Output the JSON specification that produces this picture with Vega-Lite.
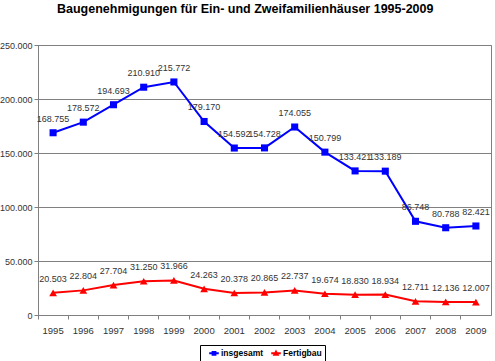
{
  "$schema": "https://vega.github.io/schema/vega-lite/v6.json",
  "width": 453,
  "height": 270,
  "autosize": {"type": "none"},
  "padding": {"left": 38, "top": 45, "right": 4, "bottom": 46},
  "background": "white",
  "config": {
    "locale": {"number": {"decimal": ",", "thousands": ".", "grouping": [3], "currency": ["", " €"]}},
    "font": "Liberation Sans",
    "view": {"stroke": "#808080", "strokeWidth": 1},
    "legend": {
      "orient": "none",
      "legendX": 162,
      "legendY": 300,
      "direction": "horizontal",
      "labelFontSize": 8.5,
      "labelFontWeight": "bold",
      "labelColor": "black",
      "labelFont": "Liberation Sans",
      "fillColor": "white",
      "strokeColor": "black",
      "padding": 3,
      "columnPadding": 1,
      "symbolOffset": 6,
      "labelOffset": 2,
      "symbolStrokeWidth": 2,
      "symbolSize": 64
    }
  },
  "title": {
    "text": "Baugenehmigungen für Ein- und Zweifamilienhäuser 1995-2009",
    "fontSize": 12.5,
    "fontWeight": "bold",
    "font": "Liberation Sans",
    "color": "black",
    "anchor": "middle",
    "frame": "bounds",
    "offset": 26
  },
  "data": {
    "values": [
      {"Jahr": "1995", "Reihe": "insgesamt", "Wert": 168755},
      {"Jahr": "1996", "Reihe": "insgesamt", "Wert": 178572},
      {"Jahr": "1997", "Reihe": "insgesamt", "Wert": 194693},
      {"Jahr": "1998", "Reihe": "insgesamt", "Wert": 210910},
      {"Jahr": "1999", "Reihe": "insgesamt", "Wert": 215772},
      {"Jahr": "2000", "Reihe": "insgesamt", "Wert": 179170},
      {"Jahr": "2001", "Reihe": "insgesamt", "Wert": 154592},
      {"Jahr": "2002", "Reihe": "insgesamt", "Wert": 154728},
      {"Jahr": "2003", "Reihe": "insgesamt", "Wert": 174055},
      {"Jahr": "2004", "Reihe": "insgesamt", "Wert": 150799},
      {"Jahr": "2005", "Reihe": "insgesamt", "Wert": 133421},
      {"Jahr": "2006", "Reihe": "insgesamt", "Wert": 133189},
      {"Jahr": "2007", "Reihe": "insgesamt", "Wert": 86748},
      {"Jahr": "2008", "Reihe": "insgesamt", "Wert": 80788},
      {"Jahr": "2009", "Reihe": "insgesamt", "Wert": 82421},
      {"Jahr": "1995", "Reihe": "Fertigbau", "Wert": 20503},
      {"Jahr": "1996", "Reihe": "Fertigbau", "Wert": 22804},
      {"Jahr": "1997", "Reihe": "Fertigbau", "Wert": 27704},
      {"Jahr": "1998", "Reihe": "Fertigbau", "Wert": 31250},
      {"Jahr": "1999", "Reihe": "Fertigbau", "Wert": 31966},
      {"Jahr": "2000", "Reihe": "Fertigbau", "Wert": 24263},
      {"Jahr": "2001", "Reihe": "Fertigbau", "Wert": 20378},
      {"Jahr": "2002", "Reihe": "Fertigbau", "Wert": 20865},
      {"Jahr": "2003", "Reihe": "Fertigbau", "Wert": 22737},
      {"Jahr": "2004", "Reihe": "Fertigbau", "Wert": 19674},
      {"Jahr": "2005", "Reihe": "Fertigbau", "Wert": 18830},
      {"Jahr": "2006", "Reihe": "Fertigbau", "Wert": 18934},
      {"Jahr": "2007", "Reihe": "Fertigbau", "Wert": 12711},
      {"Jahr": "2008", "Reihe": "Fertigbau", "Wert": 12136},
      {"Jahr": "2009", "Reihe": "Fertigbau", "Wert": 12007}
    ]
  },
  "encoding": {
    "x": {
      "field": "Jahr",
      "type": "ordinal",
      "scale": {"type": "band", "paddingInner": 0, "paddingOuter": 0},
      "axis": {
        "title": null,
        "labelAngle": 0,
        "bandPosition": 0,
        "ticks": true,
        "tickSize": 4,
        "tickColor": "#808080",
        "domainColor": "#808080",
        "grid": false,
        "labelFontSize": 9.5,
        "labelColor": "#333333",
        "labelPadding": 6
      }
    },
    "y": {
      "field": "Wert",
      "type": "quantitative",
      "scale": {"domain": [0, 250000]},
      "axis": {
        "title": null,
        "values": [0, 50000, 100000, 150000, 200000, 250000],
        "format": ",d",
        "labelFontSize": 9,
        "labelColor": "#333333",
        "tickSize": 4,
        "tickColor": "#808080",
        "domainColor": "#808080",
        "gridColor": "#808080",
        "labelPadding": 2
      }
    },
    "color": {
      "field": "Reihe",
      "type": "nominal",
      "scale": {"domain": ["insgesamt", "Fertigbau"], "range": ["#0000ff", "#ff0000"]},
      "legend": {
        "title": null,
        "encode": {
          "symbols": {
            "update": {
              "stroke": {"signal": "datum.value === 'insgesamt' ? '#0000ff' : '#ff0000'"},
              "strokeWidth": {"value": 2}
            }
          }
        }
      }
    }
  },
  "layer": [
    {"mark": {"type": "line", "strokeWidth": 2}},
    {
      "transform": [{"filter": "datum.Wert < 0"}],
      "mark": {"type": "point", "filled": true, "opacity": 1},
      "encoding": {
        "shape": {
          "field": "Reihe",
          "type": "nominal",
          "scale": {
            "domain": ["insgesamt", "Fertigbau"],
            "range": ["M-1.2,0H1.2M-0.35,-0.35H0.35V0.35H-0.35Z", "M-1.2,0H1.2M0,-0.42L0.42,0.35H-0.42Z"]
          },
          "legend": null
        }
      }
    },
    {
      "transform": [{"filter": "datum.Reihe === 'insgesamt'"}],
      "mark": {"type": "point", "filled": true, "opacity": 1, "size": 50, "shape": "square"},
      "encoding": {"color": {"value": "#0000ff"}}
    },
    {
      "transform": [{"filter": "datum.Reihe === 'Fertigbau'"}],
      "mark": {"type": "point", "filled": true, "opacity": 1, "size": 60, "shape": "triangle-up"},
      "encoding": {"color": {"value": "#ff0000"}}
    },
    {
      "mark": {"type": "text", "dy": -14, "fontSize": 9, "font": "Liberation Sans"},
      "encoding": {
        "text": {"field": "Wert", "type": "quantitative", "format": ",d"},
        "color": {"value": "#333333"}
      }
    }
  ]
}
